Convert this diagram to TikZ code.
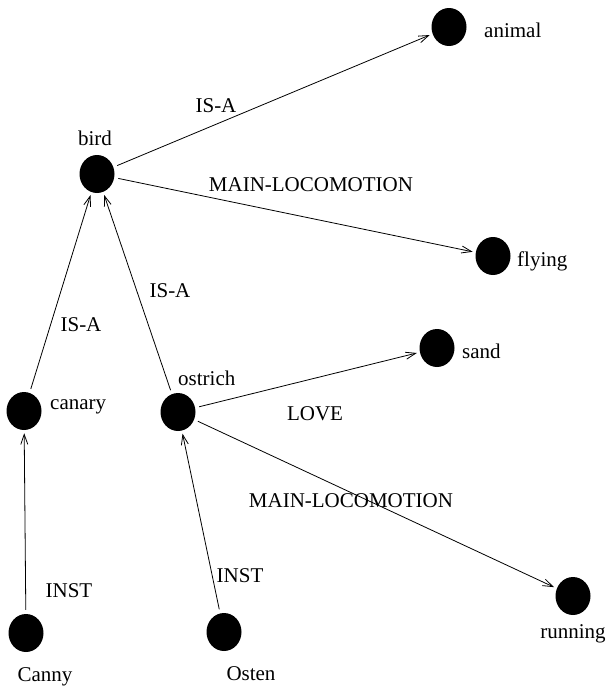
\documentclass[tikz,border=0pt]{standalone}
\usepackage{fontspec}
\setmainfont{Liberation Serif}
\usetikzlibrary{arrows.meta,shapes.geometric}
\begin{document}
\begin{tikzpicture}[x=1pt,y=-1pt,
  dot/.style={ellipse,fill=black,draw=none,minimum width=35pt,minimum height=38pt,inner sep=0pt},
  lbl/.style={inner sep=0pt,font=\fontsize{21}{25}\selectfont},
  rel/.style={draw=black,line width=0.8pt,-{Straight Barb[length=10pt,width=7pt,line width=0.8pt]},shorten >=3pt,shorten <=4pt}]
\useasboundingbox (0,0) rectangle (606,688);
% concept nodes
\node[dot] (animal) at (449,27) {};
\node[dot] (bird) at (97,174) {};
\node[dot] (flying) at (493,256) {};
\node[dot] (sand) at (437,348) {};
\node[dot] (canary) at (24,411) {};
\node[dot] (ostrich) at (178,412) {};
\node[dot] (running) at (573,596) {};
\node[dot] (canny) at (26,633) {};
\node[dot] (osten) at (224,632) {};
% node labels
\node[lbl,anchor=base west] (tanimal) at (484,37) {animal};
\node[lbl,anchor=base] (tbird) at (95,145) {bird};
\node[lbl,anchor=base west] (tflying) at (517,266) {flying};
\node[lbl,anchor=base west] (tsand) at (462,358) {sand};
\node[lbl,anchor=base west] (tcanary) at (50,409) {canary};
\node[lbl,anchor=base west] (tostrich) at (178,385) {ostrich};
\node[lbl,anchor=base] (trunning) at (573,638) {running};
\node[lbl,anchor=base] (tcanny) at (45,681) {Canny};
\node[lbl,anchor=base] (tosten) at (251,680) {Osten};
% edges
\draw[rel] (bird) -- (animal);
\draw[rel] (bird) -- (flying);
\draw[rel] (canary) -- (bird);
\draw[rel] (ostrich) -- (bird);
\draw[rel] (ostrich) -- (sand);
\draw[rel] (ostrich) -- (running);
\draw[rel] (canny) -- (canary);
\draw[rel] (osten) -- (ostrich);
% edge labels
\node[lbl,anchor=base] (e1) at (216,112) {IS-A};
\node[lbl,anchor=base] (e2) at (311,191) {MAIN-LOCOMOTION};
\node[lbl,anchor=base] (e3) at (170,297) {IS-A};
\node[lbl,anchor=base] (e4) at (81,331) {IS-A};
\node[lbl,anchor=base] (e5) at (315,420) {LOVE};
\node[lbl,anchor=base] (e6) at (351,507) {MAIN-LOCOMOTION};
\node[lbl,anchor=base] (e7) at (69,597) {INST};
\node[lbl,anchor=base] (e8) at (240,582) {INST};
\end{tikzpicture}
\end{document}
